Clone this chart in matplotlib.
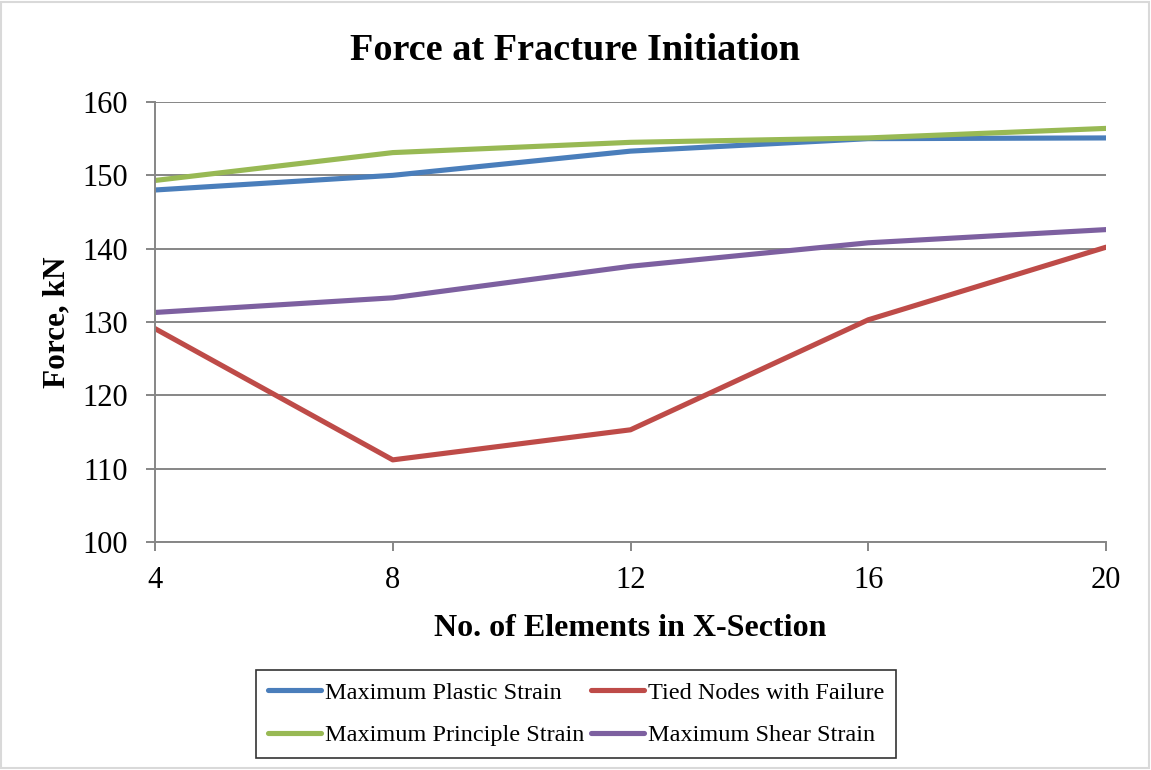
import matplotlib.pyplot as plt
from matplotlib.patches import Rectangle

# Force at fracture initiation vs mesh density
elements = [4, 8, 12, 16, 20]
plastic_strain = [148.0, 150.0, 153.3, 155.0, 155.1]
tied_nodes = [129.1, 111.2, 115.3, 130.3, 140.2]
principle_strain = [149.3, 153.1, 154.5, 155.1, 156.4]
shear_strain = [131.3, 133.3, 137.6, 140.8, 142.6]

y_ticks = [100, 110, 120, 130, 140, 150, 160]

plt.rcParams["font.family"] = ["Liberation Serif", "DejaVu Serif"]

W, H = 1151, 770
fig = plt.figure(figsize=(W / 100, H / 100), dpi=100)
# plot area in pixels: x 155..1106, y 102..542
ax = fig.add_axes([155 / W, 1 - 542 / H, (1106 - 155) / W, (542 - 102) / H])

grey = "#868686"
lw = 3.7
l1, = ax.plot(elements, plastic_strain, color="#4A7EBB", lw=lw, solid_capstyle="round")
l2, = ax.plot(elements, tied_nodes, color="#BE4B48", lw=lw, solid_capstyle="round")
l3, = ax.plot(elements, principle_strain, color="#98B954", lw=lw, solid_capstyle="round")
l4, = ax.plot(elements, shear_strain, color="#7D60A0", lw=lw, solid_capstyle="round")

ax.set_xlim(4, 20)
ax.set_ylim(100, 160)
ax.set_xticks(elements)
ax.set_yticks(y_ticks)
ax.grid(axis="y", color=grey, lw=1.4)
ax.set_axisbelow(True)

for side in ["top", "right"]:
    ax.spines[side].set_visible(False)
for side in ["left", "bottom"]:
    ax.spines[side].set_color(grey)
    ax.spines[side].set_linewidth(1.4)
ax.tick_params(axis="both", color=grey, width=1.4, length=6.5, labelsize=22)
ax.tick_params(axis="x", pad=11)
ax.tick_params(axis="y", pad=13)

fig.text(0.5, 1 - 60 / H, "Force at Fracture Initiation", ha="center", va="baseline",
         fontsize=27.5, fontweight="bold")

ax.set_xlabel("No. of Elements in X-Section", fontsize=23, fontweight="bold")
ax.xaxis.label.set_va("baseline")
ax.xaxis.set_label_coords(0.5, (542 - 636) / 440)

ax.set_ylabel("Force, kN", fontsize=22.5, fontweight="bold")
ax.yaxis.label.set_va("center")
ax.yaxis.set_label_coords((57 - 155) / 951, 0.5)

leg = fig.legend([l1, l3, l2, l4],
                 ["Maximum Plastic Strain", "Maximum Principle Strain",
                  "Tied Nodes with Failure", "Maximum Shear Strain"],
                 ncol=2, loc="center", bbox_to_anchor=(576 / W, 1 - 714 / H),
                 fontsize=17.5, frameon=True, fancybox=False, handlelength=2.2,
                 handletextpad=0.15, columnspacing=0.25, labelspacing=0.85,
                 borderpad=0.5, borderaxespad=0)
leg.get_frame().set_edgecolor("black")
leg.get_frame().set_linewidth(1.2)

fig.patches.append(Rectangle((0.001, 0.002), 0.997, 0.996, transform=fig.transFigure,
                             fill=False, edgecolor="#d9d9d9", lw=1.5))

fig.savefig("out.png", dpi=100)
